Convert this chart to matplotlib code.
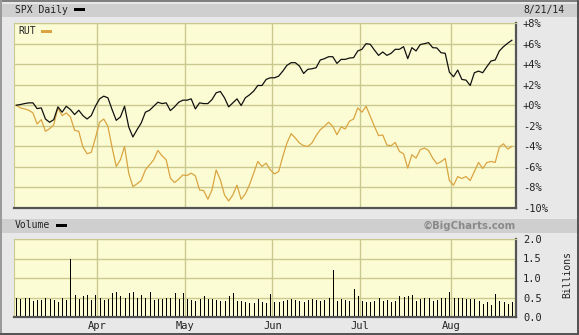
import matplotlib
matplotlib.use("Agg")
import matplotlib.pyplot as plt
from matplotlib.patches import Rectangle

# percent change since first day (trading-day index on x)
spx = [0.00, 0.07, 0.16, 0.23, 0.23, -0.33, -0.26, -1.34, -1.66, -1.40,
       -0.16, -0.68, -0.10, -0.42, -0.91, -0.49, -1.01, -1.34, -1.01, -0.10,
       0.62, 0.88, 0.72, -0.42, -1.47, -1.14, -0.10, -2.12, -3.09, -2.38,
       -1.73, -0.68, -0.49, -0.10, 0.29, 0.16, 0.23, -0.52, -0.16, 0.29,
       0.49, 0.49, 0.62, -0.36, 0.23, 0.16, 0.16, 0.55, 1.21, 1.34,
       0.72, -0.16, 0.23, 0.62, -0.03, 0.72, 1.01, 1.37, 1.92, 1.92,
       2.51, 2.67, 2.67, 2.83, 3.32, 3.88, 4.14, 4.14, 3.81, 3.09,
       3.49, 3.55, 3.65, 4.40, 4.53, 4.72, 4.72, 4.07, 4.46, 4.46,
       4.59, 4.63, 5.28, 5.44, 5.99, 5.93, 5.37, 4.85, 5.18, 4.85,
       5.05, 5.44, 5.44, 5.70, 4.53, 5.60, 5.28, 5.90, 5.99, 6.09,
       5.60, 5.57, 5.11, 5.05, 3.22, 2.77, 3.42, 2.51, 2.44, 1.92,
       3.16, 3.32, 3.16, 3.75, 4.30, 4.40, 5.28, 5.70, 6.03, 6.32]

rut = [0.00, -0.26, -0.36, -0.49, -0.75, -1.82, -1.40, -2.54, -2.28, -1.89,
       -0.26, -1.01, -0.75, -1.14, -2.44, -2.54, -4.07, -4.72, -4.59, -3.19,
       -1.66, -1.34, -2.05, -4.10, -5.96, -5.31, -4.01, -6.61, -7.92, -7.65,
       -7.33, -6.29, -5.80, -5.31, -4.40, -4.92, -5.31, -7.10, -7.52, -7.20,
       -6.78, -6.84, -6.61, -6.87, -8.24, -8.31, -9.15, -8.24, -6.29, -7.26,
       -8.73, -9.32, -8.73, -7.78, -9.15, -8.63, -7.75, -6.61, -5.47, -5.96,
       -5.64, -6.29, -6.68, -6.45, -4.98, -3.68, -2.77, -3.19, -3.68, -3.94,
       -4.01, -3.68, -2.96, -2.38, -2.05, -1.66, -2.05, -2.87, -2.12, -2.31,
       -1.56, -1.34, -0.26, -0.68, -0.10, -1.07, -2.05, -2.96, -2.90, -3.88,
       -3.94, -3.62, -4.50, -4.72, -6.12, -4.82, -5.15, -4.33, -4.17, -4.40,
       -5.15, -5.70, -5.50, -5.18, -7.33, -7.78, -6.94, -7.13, -6.94, -7.33,
       -6.45, -5.57, -6.16, -5.57, -5.47, -5.57, -4.07, -3.75, -4.27, -4.01]

# SPX volume, billions
volume = [0.50, 0.45, 0.48, 0.49, 0.41, 0.43, 0.43, 0.48, 0.45, 0.43,
          0.38, 0.48, 0.43, 1.50, 0.56, 0.45, 0.54, 0.56, 0.43, 0.56,
          0.48, 0.43, 0.45, 0.61, 0.63, 0.53, 0.50, 0.61, 0.63, 0.50,
          0.56, 0.50, 0.63, 0.43, 0.45, 0.45, 0.50, 0.50, 0.61, 0.45,
          0.61, 0.45, 0.43, 0.40, 0.45, 0.53, 0.45, 0.45, 0.43, 0.40,
          0.40, 0.53, 0.61, 0.40, 0.40, 0.38, 0.35, 0.35, 0.45, 0.38,
          0.35, 0.60, 0.38, 0.39, 0.42, 0.44, 0.46, 0.44, 0.40, 0.38,
          0.44, 0.46, 0.44, 0.40, 0.43, 0.48, 1.20, 0.40, 0.46, 0.44,
          0.40, 0.72, 0.53, 0.42, 0.38, 0.38, 0.40, 0.48, 0.40, 0.44,
          0.38, 0.40, 0.53, 0.51, 0.53, 0.56, 0.40, 0.46, 0.48, 0.48,
          0.40, 0.44, 0.48, 0.48, 0.63, 0.48, 0.50, 0.48, 0.46, 0.46,
          0.46, 0.40, 0.34, 0.38, 0.32, 0.60, 0.40, 0.38, 0.34, 0.38]

month_labels = ["Apr", "May", "Jun", "Jul", "Aug"]
month_start = [20, 41, 62, 83, 105]   # index of first trading day of month
pct_ticks = [8, 6, 4, 2, 0, -2, -4, -6, -8, -10]
vol_ticks = [0.0, 0.5, 1.0, 1.5, 2.0]

W, H = 579, 335
BG = "#e8e8e8"
BAR = "#cfcfcf"
PLOT_BG = "#fcfcd4"
GRID = "#c9c98f"
DARK = "#555555"
ORANGE = "#d9a441"
MONO = "DejaVu Sans Mono"

fig = plt.figure(figsize=(W / 100, H / 100), dpi=100, facecolor=BG)


def rect(x, y, w, h, color, z=0):
    # pixel coords, y from top
    fig.add_artist(Rectangle((x / W, 1 - (y + h) / H), w / W, h / H,
                             transform=fig.transFigure, facecolor=color,
                             edgecolor="none", zorder=z))


def label(x, y, s, **kw):
    fig.text(x / W, 1 - y / H, s, va="center", ha=kw.pop("ha", "left"),
             fontsize=kw.pop("fontsize", 7), family=kw.pop("family", MONO),
             color=kw.pop("color", "#222222"), **kw)


# frame and header bars
rect(2, 3.5, 575.5, 13, BAR)
rect(2, 218.5, 575.5, 14, BAR)
rect(0, 0, W, 1.5, "#808080")
rect(0, 0, 1.5, H, "#9a9a9a")
rect(W - 2, 0, 2, H, DARK)
rect(0, H - 2, W, 2, DARK)

grid_x = [m - 0.5 for m in month_start]
n = len(spx)
x = list(range(n))

ax = fig.add_axes([14 / W, 1 - 208 / H, 502 / W, 185 / H])
axv = fig.add_axes([14 / W, 1 - 317 / H, 502 / W, 78 / H])

for a in (ax, axv):
    a.set_facecolor(PLOT_BG)
    a.set_xlim(-0.55, 120.0)
    a.set_xticks(grid_x)
    a.grid(True, color=GRID, linewidth=1.0)
    a.set_axisbelow(True)
    a.yaxis.tick_right()
    a.tick_params(length=0, labelsize=7.5, labelcolor="#222222", pad=5)
    a.spines["left"].set_color(GRID)
    a.spines["top"].set_color(GRID)
    a.spines["right"].set_color(DARK)
    a.spines["bottom"].set_color(DARK)
    a.spines["right"].set_linewidth(1.6)
    a.spines["bottom"].set_linewidth(1.6)

ax.plot(x, rut, color=ORANGE, linewidth=0.9)
ax.plot(x, spx, color="#111111", linewidth=0.9)
ax.set_ylim(-10, 8)
ax.set_yticks(pct_ticks)
ax.set_yticklabels([f"{v:+d}%" for v in pct_ticks], family=MONO)
ax.set_xticklabels([])

axv.vlines(x, 0, volume, color="black", linewidth=0.72, antialiased=False)
axv.set_ylim(0, 2.0)
axv.set_yticks(vol_ticks)
axv.set_yticklabels([f"{v:.1f}" for v in vol_ticks], family=MONO)
axv.set_xticklabels(month_labels, family=MONO)
axv.tick_params(axis="x", pad=3)

# legends and labels
label(15, 10, "SPX Daily")
rect(74, 8, 11, 3, "black", 5)
label(565, 10, "8/21/14", ha="right")
label(18, 31, "RUT")
rect(41, 29.5, 11, 3, ORANGE, 5)
label(15, 225.5, "Volume")
rect(56, 224, 11, 3, "black", 5)
label(515.5, 225.5, "\u00a9BigCharts.com", ha="right", family="DejaVu Sans",
      fontweight="bold", fontsize=7.3, color="#8a8a8a")
label(567, 275, "Billions", ha="center", rotation=90)

fig.savefig("out.png", dpi=100, facecolor=BG)
